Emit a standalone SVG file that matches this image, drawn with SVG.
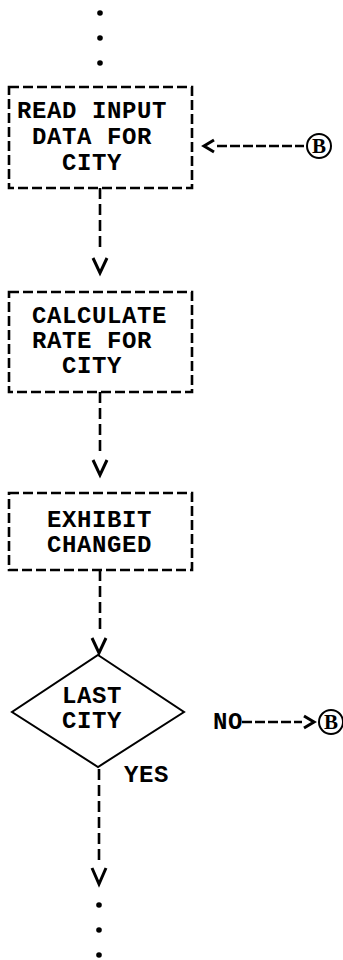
<svg xmlns="http://www.w3.org/2000/svg" width="343" height="960" viewBox="0 0 343 960">
<style>
.box{fill:none;stroke:#000;stroke-width:2.6;stroke-dasharray:10 4}
.dia{fill:none;stroke:#000;stroke-width:2}
.t{font-family:"Liberation Mono","Courier New",monospace;font-weight:bold;font-size:24px;letter-spacing:0.6px;fill:#000}
.c{font-family:"Liberation Serif","Times New Roman",serif;font-weight:bold;font-size:21px;fill:#000;text-anchor:middle}
.dl{fill:none;stroke:#000;stroke-width:2.6;stroke-dasharray:11 5}
.hl{fill:none;stroke:#000;stroke-width:2.4;stroke-dasharray:10 3}
.ah{fill:none;stroke:#000;stroke-width:3;stroke-linejoin:miter}
.ring{fill:none;stroke:#000;stroke-width:2}
</style>
<g id="top-dots">
<circle cx="100" cy="13" r="2.8"/>
<circle cx="100" cy="38" r="2.8"/>
<circle cx="100" cy="63" r="2.8"/>
</g>
<g id="read-input">
<rect class="box" x="9" y="87" width="183" height="101"/>
<text class="t" x="17" y="118">READ INPUT</text>
<text class="t" x="32" y="144">DATA FOR</text>
<text class="t" x="62" y="170">CITY</text>
</g>
<g id="calculate-rate">
<rect class="box" x="9" y="292" width="183" height="100"/>
<text class="t" x="32" y="323">CALCULATE</text>
<text class="t" x="32" y="348">RATE FOR</text>
<text class="t" x="62" y="373">CITY</text>
</g>
<g id="exhibit-changed">
<rect class="box" x="9" y="493" width="183" height="77"/>
<text class="t" x="47" y="527">EXHIBIT</text>
<text class="t" x="47" y="552">CHANGED</text>
</g>
<g id="last-city">
<polygon class="dia" points="98,655 184,712 98,767 12,712"/>
<text class="t" x="62" y="703">LAST</text>
<text class="t" x="62" y="728">CITY</text>
</g>
<g id="connector-b-top">
<circle class="ring" cx="319" cy="146" r="12"/>
<text class="c" x="319" y="153">B</text>
</g>
<g id="connector-b-right">
<circle class="ring" cx="331" cy="722" r="12"/>
<text class="c" x="331" y="729">B</text>
</g>
<g id="bottom-dots">
<circle cx="99" cy="905" r="2.8"/>
<circle cx="99" cy="930" r="2.8"/>
<circle cx="99" cy="955" r="2.8"/>
</g>
<g id="connectors">
<line class="dl" x1="100" y1="188" x2="100" y2="248"/>
<polyline class="ah" points="93,258 100,273 107,258"/>
<line class="dl" x1="100" y1="392" x2="100" y2="452"/>
<polyline class="ah" points="93,460 100,475 107,460"/>
<line class="dl" x1="100" y1="570" x2="100" y2="633"/>
<polyline class="ah" points="92,638 99,653 106,638"/>
<line class="dl" x1="99" y1="769" x2="99" y2="862"/>
<polyline class="ah" points="92,868 99,884 106,868"/>
<line class="hl" x1="217" y1="146" x2="304" y2="146"/>
<polyline class="ah" points="214,140 204,146 214,152"/>
<line class="hl" x1="242" y1="722" x2="302" y2="722"/>
<polyline class="ah" points="304,716 314,722 304,728"/>
<text class="t" x="124" y="782">YES</text>
<text class="t" x="213" y="729">NO</text>
</g>
</svg>
